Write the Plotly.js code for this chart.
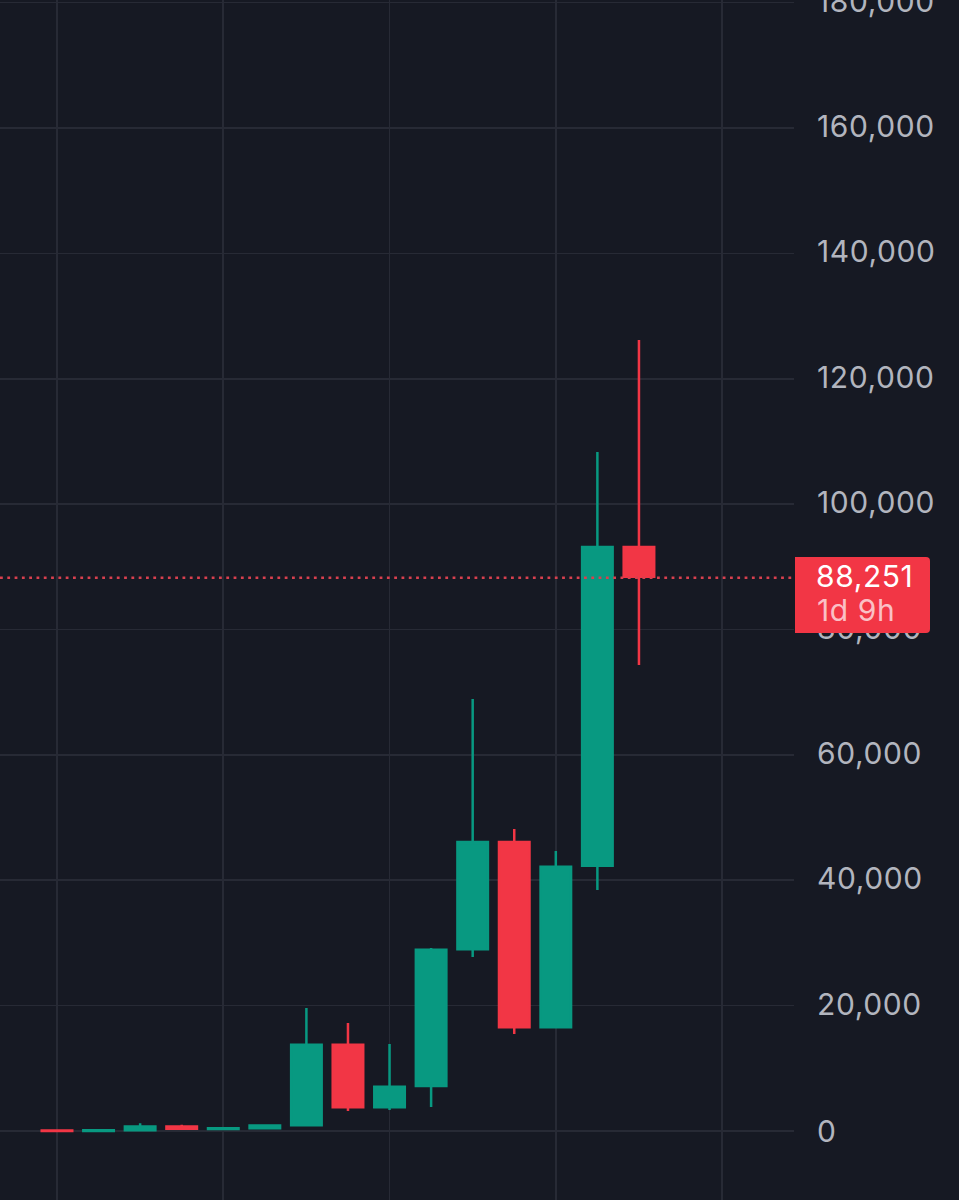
<!DOCTYPE html>
<html>
<head>
<meta charset="utf-8">
<script src="https://cdn.plot.ly/plotly-3.0.1.min.js"></script>
<style>html,body{margin:0;padding:0;background:#161923;overflow:hidden}
.ytick text,.annotation-text{letter-spacing:.6px}
.ytick:not(:first-child){transform:translateY(-1.5px)}</style>
</head>
<body>
<div id="chart" style="width:959px;height:1200px"></div>
<script>
const years  = [2011,2012,2013,2014,2015,2016,2017,2018,2019,2020,2021,2022,2023,2024,2025];
const opens  = [60,13,100,700,320,430,900,13750,3800,7180,29000,46100,16550,42300,93150];
const highs  = [60,100,1250,1000,500,900,19620,17230,13880,29200,68900,48180,44670,108300,126180];
const lows   = [0,0,100,300,170,350,780,3200,3350,3830,27760,15470,16430,38440,74340];
const closes = [5,100,700,350,430,860,13750,3800,7050,28900,46100,16550,42150,93150,88400];
const yTicks = [0,20000,40000,60000,80000,100000,120000,140000,160000,180000];
const xTicks = [2011,2015,2019,2023,2027];
const lastPrice = 88251;
const priceLabel = "88,251";
const countdownLabel = "1d 9h";

const up = "#089981", down = "#f23645";
const W = 959, H = 1200, plotW = 794;
const px = v => v / plotW;
const py = v => 1 - v / H;
const tag = [795,930,557,633], r = 4;
const tagPath = `M${px(tag[0])},${py(tag[2])} L${px(tag[1]-r)},${py(tag[2])} Q${px(tag[1])},${py(tag[2])} ${px(tag[1])},${py(tag[2]+r)} L${px(tag[1])},${py(tag[3]-r)} Q${px(tag[1])},${py(tag[3])} ${px(tag[1]-r)},${py(tag[3])} L${px(tag[0])},${py(tag[3])} Z`;

Plotly.newPlot("chart", [{
  type: "candlestick",
  x: years, open: opens, high: highs, low: lows, close: closes,
  whiskerwidth: 0,
  increasing: {line: {color: up, width: 2.5}, fillcolor: up},
  decreasing: {line: {color: down, width: 2.5}, fillcolor: down},
  hoverinfo: "none"
}], {
  width: W, height: H,
  margin: {l: 0, r: W - plotW, t: 0, b: 0, pad: 0},
  paper_bgcolor: "#161923",
  plot_bgcolor: "#161923",
  showlegend: false,
  boxgap: 0.266,
  boxgroupgap: 0,
  font: {family: "Inter, Roboto, sans-serif"},
  xaxis: {
    range: [2009.629, 2028.73],
    tickvals: xTicks, showticklabels: false, ticks: "",
    showgrid: true, gridcolor: "#272a35", gridwidth: 1.6,
    zeroline: false, showline: false,
    rangeslider: {visible: false}
  },
  yaxis: {
    range: [-11007, 180419],
    side: "right",
    tickvals: yTicks, tickformat: ",",
    showgrid: true, gridcolor: "#272a35", gridwidth: 1.6,
    zeroline: false, showline: false,
    ticks: "", ticklabelstandoff: 22,
    ticklabeloverflow: "allow",
    tickfont: {family: "Inter, Roboto, sans-serif", size: 30, color: "#b2b5be"}
  },
  shapes: [
    {type: "line", xref: "paper", x0: 0, x1: 1, yref: "y", y0: lastPrice, y1: lastPrice,
     line: {color: "#d8404f", width: 2.5, dash: "2.8px,4.5px"}},
    {type: "path", xref: "paper", yref: "paper", path: tagPath, fillcolor: down, line: {width: 0}, layer: "above"}
  ],
  annotations: [
    {xref: "paper", yref: "paper", x: px(814), y: py(576), xanchor: "left", yanchor: "middle", showarrow: false,
     text: priceLabel, font: {family: "Inter, Roboto, sans-serif", size: 30, color: "#ffffff"}},
    {xref: "paper", yref: "paper", x: px(815), y: py(610), xanchor: "left", yanchor: "middle", showarrow: false,
     text: countdownLabel, font: {family: "Inter, Roboto, sans-serif", size: 30, color: "#fac0c5"}}
  ]
}, {staticPlot: true, displayModeBar: false});
</script>
</body>
</html>
